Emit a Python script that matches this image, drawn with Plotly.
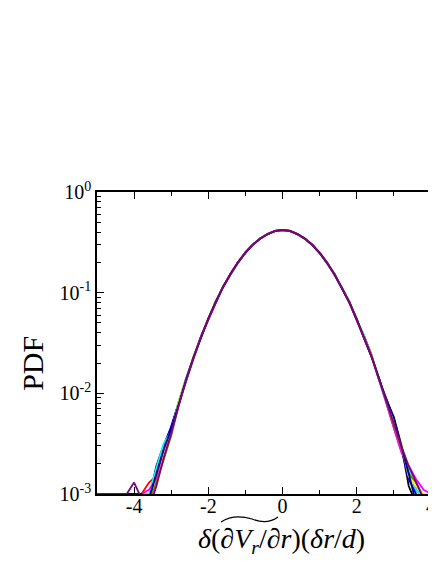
import plotly.graph_objects as go

F = 0.001  # floor value of the histograms (bottom of axis)

x_vals = [-5.0, -4.8, -4.6, -4.4, -4.2, -4.0, -3.8, -3.6, -3.4, -3.2,
          -3.0, -2.8, -2.6, -2.4, -2.2, -2.0, -1.8, -1.6, -1.4, -1.2,
          -1.0, -0.8, -0.6, -0.4, -0.2, 0.0, 0.2, 0.4, 0.6, 0.8,
          1.0, 1.2, 1.4, 1.6, 1.8, 2.0, 2.2, 2.4, 2.6, 2.8,
          3.0, 3.2, 3.4, 3.6, 3.8, 4.0, 4.2]

pdf_black = [F, F, F, F, F, F, F, 0.0009, 0.0019, 0.0031,
             0.0046, 0.0081, 0.0140, 0.0225, 0.0365, 0.0550, 0.081, 0.113, 0.155, 0.199,
             0.251, 0.299, 0.346, 0.384, 0.409, 0.418, 0.411, 0.381, 0.345, 0.297,
             0.249, 0.197, 0.153, 0.111, 0.081, 0.053, 0.037, 0.024, 0.0135, 0.0088,
             0.0055, 0.0031, 0.0012, 0.0008, F, F, F]
pdf_red = [F, F, F, F, F, F, F, 0.0013, 0.0015, 0.0026,
           0.0044, 0.0078, 0.0136, 0.0230, 0.0358, 0.0556, 0.080, 0.115, 0.153, 0.201,
           0.249, 0.301, 0.344, 0.382, 0.411, 0.421, 0.409, 0.383, 0.343, 0.299,
           0.247, 0.199, 0.151, 0.113, 0.079, 0.055, 0.035, 0.023, 0.0142, 0.0080,
           0.0045, 0.0027, 0.0017, 0.0011, 0.0009, F, F]
pdf_green = [F, F, F, F, F, F, F, 0.0008, 0.0017, 0.0027,
             0.0043, 0.0083, 0.0137, 0.0231, 0.0361, 0.0560, 0.082, 0.114, 0.152, 0.198,
             0.252, 0.298, 0.347, 0.381, 0.412, 0.419, 0.412, 0.380, 0.346, 0.296,
             0.250, 0.200, 0.152, 0.112, 0.082, 0.054, 0.036, 0.0235, 0.0140, 0.0083,
             0.0049, 0.0029, 0.0016, 0.0012, 0.0010, F, F]
pdf_blue = [F, F, F, F, F, F, F, 0.0009, 0.0016, 0.0029,
            0.0047, 0.0079, 0.0139, 0.0222, 0.0367, 0.0548, 0.079, 0.116, 0.154, 0.200,
            0.250, 0.300, 0.345, 0.383, 0.408, 0.420, 0.410, 0.382, 0.344, 0.298,
            0.248, 0.198, 0.154, 0.110, 0.080, 0.054, 0.036, 0.0232, 0.0138, 0.0084,
            0.0050, 0.0028, 0.0014, 0.0010, 0.0008, F, F]
pdf_cyan = [F, F, F, F, F, F, F, 0.0010, 0.0018, 0.0032,
            0.0042, 0.0080, 0.0141, 0.0226, 0.0362, 0.0553, 0.083, 0.112, 0.153, 0.199,
            0.251, 0.301, 0.344, 0.384, 0.410, 0.417, 0.411, 0.381, 0.343, 0.299,
            0.249, 0.196, 0.152, 0.113, 0.081, 0.055, 0.037, 0.0228, 0.0136, 0.0082,
            0.0047, 0.0030, 0.0018, 0.0011, 0.0009, F, F]
pdf_magenta = [F, F, F, F, F, F, F, 0.0011, 0.0014, 0.0025,
               0.0041, 0.0077, 0.0135, 0.0227, 0.0364, 0.0551, 0.080, 0.114, 0.155, 0.200,
               0.250, 0.299, 0.346, 0.382, 0.411, 0.419, 0.410, 0.383, 0.345, 0.301,
               0.248, 0.199, 0.151, 0.112, 0.080, 0.053, 0.036, 0.0233, 0.0137, 0.0079,
               0.0044, 0.0026, 0.0019, 0.0014, 0.0011, 0.0010, F]
pdf_yellow = [F, F, F, F, F, F, F, 0.0008, 0.0012, 0.0024,
              0.0040, 0.0082, 0.0138, 0.0229, 0.0360, 0.0557, 0.081, 0.113, 0.152, 0.198,
              0.249, 0.300, 0.345, 0.385, 0.410, 0.422, 0.412, 0.382, 0.344, 0.297,
              0.250, 0.198, 0.153, 0.111, 0.080, 0.054, 0.035, 0.0236, 0.0139, 0.0084,
              0.0051, 0.0032, 0.0015, 0.0012, 0.0010, F, F]
pdf_olive = [F, F, F, F, F, F, F, 0.0008, 0.0013, 0.0022,
             0.0038, 0.0076, 0.0134, 0.0224, 0.0359, 0.0549, 0.082, 0.115, 0.154, 0.201,
             0.250, 0.298, 0.344, 0.383, 0.409, 0.420, 0.409, 0.381, 0.346, 0.298,
             0.249, 0.197, 0.152, 0.112, 0.081, 0.055, 0.036, 0.0229, 0.0141, 0.0081,
             0.0048, 0.0029, 0.0016, 0.0013, 0.0009, F, F]
pdf_navy = [F, F, F, F, F, F, F, 0.0009, 0.0016, 0.0028,
            0.0044, 0.0080, 0.0137, 0.0228, 0.0363, 0.0552, 0.081, 0.114, 0.153, 0.199,
            0.250, 0.300, 0.345, 0.383, 0.410, 0.419, 0.410, 0.382, 0.344, 0.298,
            0.249, 0.198, 0.152, 0.112, 0.080, 0.054, 0.036, 0.0231, 0.0140, 0.0086,
            0.0058, 0.0031, 0.0016, 0.0008, 0.0007, F, F]
pdf_purple = [F, F, F, F, F, 0.0013, 0.0009, 0.0007, 0.0012, 0.0023,
              0.0040, 0.0075, 0.0135, 0.0226, 0.0362, 0.0551, 0.080, 0.114, 0.154, 0.200,
              0.250, 0.300, 0.345, 0.383, 0.410, 0.420, 0.410, 0.382, 0.344, 0.299,
              0.249, 0.198, 0.152, 0.112, 0.080, 0.054, 0.036, 0.0232, 0.0138, 0.0082,
              0.0049, 0.0030, 0.0019, 0.0013, 0.0009, F, F]

series = [
    ("black", pdf_black), ("red", pdf_red), ("#00ff00", pdf_green),
    ("blue", pdf_blue), ("cyan", pdf_cyan), ("magenta", pdf_magenta),
    ("yellow", pdf_yellow), ("#808000", pdf_olive), ("#000080", pdf_navy),
    ("#800080", pdf_purple),
]

x_tickvals = [-4, -2, 0, 2, 4]
x_ticktext = ["-4", "-2", "0", "2", "4"]
y_tickvals = [1, 0.1, 0.01, 0.001]
y_ticktext = ["10<sup>0</sup>", "10<sup>-1</sup>", "10<sup>-2</sup>", "10<sup>-3</sup>"]
y_minor = [m * 10.0 ** e for e in (-3, -2, -1) for m in range(2, 10)]

fig = go.Figure()
for col, ys in series:
    fig.add_trace(go.Scatter(x=x_vals, y=ys, mode="lines",
                             line=dict(color=col, width=1.8),
                             showlegend=False, hoverinfo="skip"))

serif = "Liberation Serif, Times New Roman, serif"

fig.update_layout(
    width=428, height=556,
    margin=dict(l=89, r=0, t=184, b=70),
    paper_bgcolor="white", plot_bgcolor="white",
    font=dict(family=serif, color="black", size=20),
    xaxis=dict(
        range=[-5, 4.135], showgrid=False, zeroline=False,
        showline=True, linecolor="black", linewidth=1.5, mirror="ticks",
        ticks="inside", ticklen=7, tickwidth=1.2, tickcolor="black",
        tickvals=x_tickvals, ticktext=x_ticktext,
        tickfont=dict(family=serif, size=20), ticklabelstandoff=-7,
        minor=dict(tickvals=[-5, -3, -1, 1, 3], ticks="inside", ticklen=4,
                   tickwidth=1.2, tickcolor="black"),
    ),
    yaxis=dict(
        type="log", range=[-3, 0], showgrid=False, zeroline=False,
        showline=True, linecolor="black", linewidth=1.5, mirror=False,
        ticks="inside", ticklen=7, tickwidth=1.2, tickcolor="black",
        tickvals=y_tickvals, ticktext=y_ticktext,
        tickfont=dict(family=serif, size=20),
        minor=dict(tickvals=y_minor, ticks="inside", ticklen=4,
                   tickwidth=1.2, tickcolor="black"),
    ),
)

fig.add_annotation(text="PDF", xref="paper", yref="paper", x=-0.189, y=0.434,
                   textangle=-90, showarrow=False,
                   font=dict(family=serif, size=30, color="black"),
                   xanchor="center", yanchor="middle")

fig.add_annotation(
    text="<i>δ</i>(<i>∂V</i><sub><i>r</i></sub>/<i>∂r</i>)(<i>δr</i>/<i>d</i>)",
    xref="paper", yref="paper", x=0.5457, y=-0.153, showarrow=False,
    font=dict(family=serif, size=28, color="black"),
    xanchor="center", yanchor="middle")

# decorative tilde accent drawn over the axis-title expression
fig.add_shape(type="path", xref="paper", yref="paper",
              path="M 0.3658,-0.0927 C 0.3923,-0.0728 0.4277,-0.0728 0.4572,-0.0828 "
                   "C 0.4867,-0.0960 0.5103,-0.0960 0.5339,-0.0762",
              line=dict(color="black", width=1.2))

fig.write_html("out.html")
